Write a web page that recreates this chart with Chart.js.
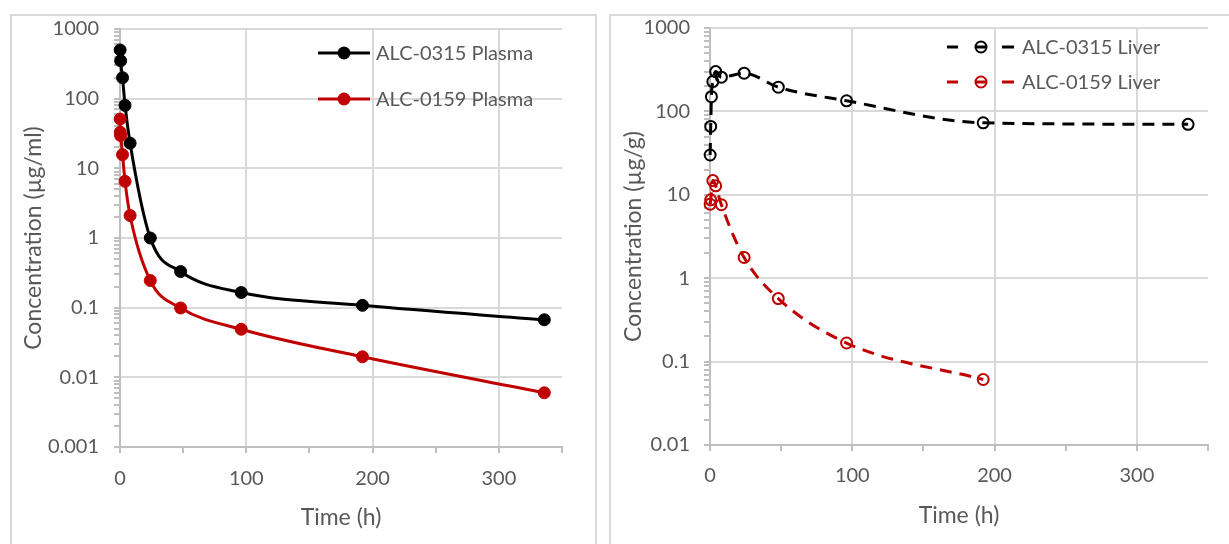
<!DOCTYPE html>
<html>
<head>
<meta charset="utf-8">
<title>Plasma and liver concentration</title>
<script src="https://cdn.jsdelivr.net/npm/chart.js@4.4.1/dist/chart.umd.min.js"></script>
<style>
  html, body { margin: 0; padding: 0; background: #fff; }
  body { width: 1229px; height: 544px; position: relative; overflow: hidden; }
  .panel { position: absolute; top: 14px; height: 560px; border: 2px solid #d9d9d9; box-sizing: border-box; }
  #panelL { left: 10px; width: 587px; }
  #panelR { left: 609px; width: 640px; }
  .box { position: absolute; top: 0; height: 544px; }
  #boxL { left: 0; width: 600px; }
  #boxR { left: 600px; width: 629px; }
</style>
</head>
<body>
<div class="panel" id="panelL"></div>
<div class="panel" id="panelR"></div>
<div class="box" id="boxL"><canvas id="plasmaChart"></canvas></div>
<div class="box" id="boxR"><canvas id="liverChart"></canvas></div>

<script>
// ---- data (time in h, concentration) ----
const plasmaT0315 = [0.1, 0.5, 2, 4, 8, 24, 48, 96, 192, 336];
const plasma0315  = [500, 350, 200, 80, 23, 1.0, 0.33, 0.165, 0.108, 0.067];
const plasmaT0159 = [0.1, 0.25, 0.5, 2, 4, 8, 24, 48, 96, 192, 336];
const plasma0159  = [51, 33, 29.5, 15.7, 6.5, 2.1, 0.245, 0.099, 0.049, 0.0197, 0.006];

const liverT0315 = [0.1, 0.5, 1, 2, 4, 8, 24, 48, 96, 192, 336];
const liver0315  = [30, 66, 150, 228, 300, 257, 287, 195, 134, 73, 70];
const liverT0159 = [0.1, 0.5, 2, 4, 8, 24, 48, 96, 192];
const liver0159  = [7.7, 8.7, 14.8, 12.8, 7.6, 1.77, 0.57, 0.167, 0.061];

const seriesNames = ['ALC-0315 Plasma', 'ALC-0159 Plasma', 'ALC-0315 Liver', 'ALC-0159 Liver'];
const xTickLabels = [0, 100, 200, 300];
const yTicksPlasma = [0.001, 0.01, 0.1, 1, 10, 100, 1000];
const yTicksLiver  = [0.01, 0.1, 1, 10, 100, 1000];

const BLACK = '#000000';
const RED = '#c00000';
const GRID = '#d9d9d9';
const AXIS = '#bfbfbf';
const TEXT = '#595959';
const FONT = 'Lato';
const NONE = 'rgba(0,0,0,0)';

const pts = (t, v) => t.map((x, i) => ({ x: x, y: v[i] }));

// decades plus the 2..9 minor ticks between them
function logTicks(majors) {
    const out = [];
    majors.forEach((m, i) => {
        out.push({ value: m });
        if (i < majors.length - 1) {
            for (let k = 2; k <= 9; k++) out.push({ value: +(m * k).toPrecision(3) });
        }
    });
    return out;
}

function xScale(tickPad) {
    return {
        type: 'linear',
        min: 0,
        max: 350,
        ticks: {
            stepSize: 50,
            autoSkip: false,
            maxRotation: 0,
            padding: tickPad,
            color: TEXT,
            font: { family: FONT, size: 20 },
            callback: v => xTickLabels.includes(v) ? String(v) : ''
        },
        grid: {
            color: c => (c.tick && c.tick.value > 0 && xTickLabels.includes(c.tick.value)) ? GRID : NONE,
            lineWidth: 2,
            tickColor: AXIS,
            tickLength: 6
        },
        border: { color: AXIS, width: 2 },
        title: {
            display: true,
            text: 'Time (h)',
            color: TEXT,
            font: { family: FONT, size: 23 },
            padding: { top: 0, bottom: 3 }
        },
        afterFit: s => { s.height = 87; }
    };
}

function yScale(majors, label, width, tickPad) {
    const majorSet = new Set(majors);
    return {
        type: 'logarithmic',
        min: majors[0],
        max: majors[majors.length - 1],
        afterBuildTicks: s => { s.ticks = logTicks(majors); },
        ticks: {
            autoSkip: false,
            padding: tickPad,
            color: TEXT,
            font: { family: FONT, size: 20 },
            callback: v => majorSet.has(v) ? String(v) : ''
        },
        grid: {
            color: c => (c.tick && majorSet.has(c.tick.value)) ? GRID : NONE,
            lineWidth: 2,
            tickColor: AXIS,
            tickLength: 6
        },
        border: { color: AXIS, width: 2 },
        title: {
            display: true,
            text: label,
            color: TEXT,
            font: { family: FONT, size: 23 },
            padding: { top: 20, bottom: 0 }
        },
        afterFit: s => { s.width = width; }
    };
}

// legend drawn inside the plot: line sample, marker, name
const inlineLegend = {
    id: 'inlineLegend',
    afterDatasetsDraw(chart, args, opts) {
        const ctx = chart.ctx;
        chart.data.datasets.forEach((ds, i) => {
            const x0 = opts.x;
            const y = opts.y + i * opts.rowGap;
            ctx.save();
            ctx.strokeStyle = ds.borderColor;
            ctx.lineWidth = ds.borderWidth;
            ctx.lineCap = 'butt';
            opts.segments.forEach(([a, b]) => {
                ctx.beginPath();
                ctx.moveTo(x0 + a, y);
                ctx.lineTo(x0 + b, y);
                ctx.stroke();
            });
            ctx.beginPath();
            ctx.arc(x0 + opts.markerX, y, opts.markerR, 0, Math.PI * 2);
            if (opts.filled) {
                ctx.fillStyle = ds.borderColor;
                ctx.fill();
            } else {
                ctx.lineWidth = 2;
                ctx.stroke();
            }
            ctx.fillStyle = TEXT;
            ctx.font = '20px ' + FONT;
            ctx.textBaseline = 'middle';
            ctx.fillText(ds.label, x0 + opts.textX, y + 1);
            ctx.restore();
        });
    }
};

function solidSet(label, t, v, color, order) {
    return {
        label: label,
        data: pts(t, v),
        borderColor: color,
        backgroundColor: color,
        borderWidth: 3,
        pointRadius: 6,
        pointBorderWidth: 1,
        pointBackgroundColor: color,
        cubicInterpolationMode: 'monotone',
        clip: false,
        order: order
    };
}

function dashedSet(label, t, v, color, order) {
    return {
        label: label,
        data: pts(t, v),
        borderColor: color,
        backgroundColor: color,
        borderWidth: 3,
        borderDash: [12, 8],
        pointRadius: 5.5,
        pointBorderWidth: 2,
        pointBackgroundColor: NONE,
        pointBorderColor: color,
        cubicInterpolationMode: 'monotone',
        clip: false,
        order: order
    };
}

Chart.defaults.font.family = FONT;
Chart.defaults.animation = false;

new Chart(document.getElementById('plasmaChart'), {
    type: 'line',
    data: {
        datasets: [
            solidSet(seriesNames[0], plasmaT0315, plasma0315, BLACK, 1),
            solidSet(seriesNames[1], plasmaT0159, plasma0159, RED, 0)
        ]
    },
    options: {
        responsive: true,
        maintainAspectRatio: false,
        layout: { padding: { left: 0, top: 29, right: 38, bottom: 10 } },
        plugins: {
            legend: { display: false },
            tooltip: { enabled: false },
            inlineLegend: {
                x: 318, y: 53, rowGap: 46,
                segments: [[0, 52]], markerX: 26, markerR: 6.5, filled: true, textX: 58
            }
        },
        scales: {
            x: xScale(14),
            y: yScale(yTicksPlasma, 'Concentration (µg/ml)', 120, 15)
        }
    },
    plugins: [inlineLegend]
});

new Chart(document.getElementById('liverChart'), {
    type: 'line',
    data: {
        datasets: [
            dashedSet(seriesNames[2], liverT0315, liver0315, BLACK, 1),
            dashedSet(seriesNames[3], liverT0159, liver0159, RED, 0)
        ]
    },
    options: {
        responsive: true,
        maintainAspectRatio: false,
        layout: { padding: { left: 0, top: 28, right: 21, bottom: 12 } },
        plugins: {
            legend: { display: false },
            tooltip: { enabled: false },
            inlineLegend: {
                x: 347, y: 47, rowGap: 35,
                segments: [[0, 11], [28, 40], [55, 67]], markerX: 34, markerR: 5.5, filled: false, textX: 75
            }
        },
        scales: {
            x: xScale(13),
            y: yScale(yTicksLiver, 'Concentration (µg/g)', 110, 14)
        }
    },
    plugins: [inlineLegend]
});
</script>
</body>
</html>
